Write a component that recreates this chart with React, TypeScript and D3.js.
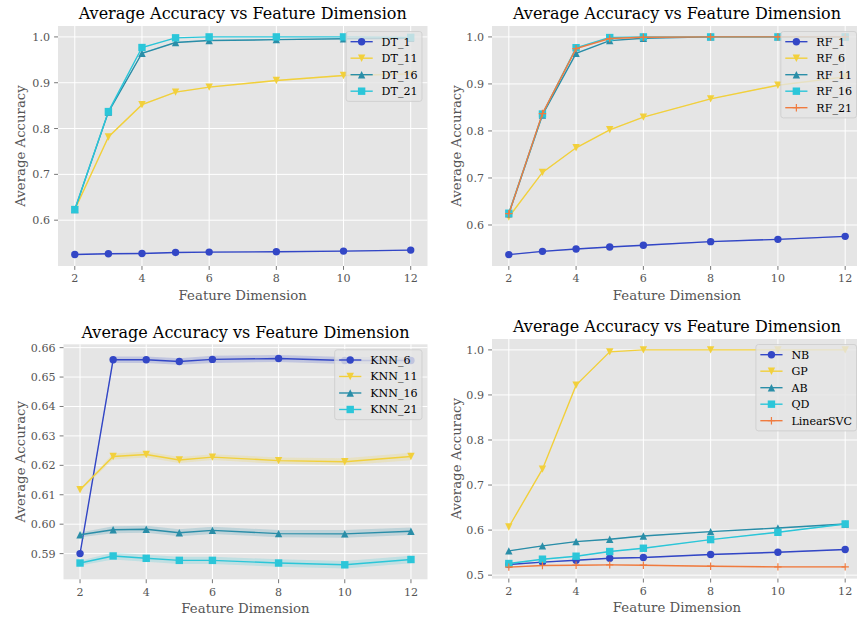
import React from "react";
import * as d3 from "d3";

// ---------- data ----------
const dims = [2, 3, 4, 5, 6, 8, 10, 12];
const xTicks = [2, 4, 6, 8, 10, 12];

// Panel 1: Decision trees
const dt1 = [0.525, 0.5267, 0.5274, 0.5296, 0.5303, 0.531, 0.5325, 0.5347];
const dt11 = [0.623, 0.7815, 0.852, 0.8795, 0.8904, 0.9049, 0.9158, 0.919];
const dt16 = [0.623, 0.836, 0.9644, 0.9877, 0.992, 0.994, 0.996, 0.997];
const dt21 = [0.6232, 0.837, 0.9768, 0.998, 1.0, 1.0, 1.0, 0.999];
const dt1Std = [0.0012, 0.0012, 0.0012, 0.0012, 0.0012, 0.0012, 0.0012, 0.0012];
const dt11Std = [0.001, 0.0015, 0.0015, 0.0015, 0.0015, 0.0015, 0.0015, 0.0015];
const dt16Std = [0.001, 0.001, 0.001, 0.001, 0.001, 0.001, 0.001, 0.001];
const dt21Std = [0.001, 0.001, 0.001, 0.0005, 0, 0, 0, 0];

// Panel 2: Random forests
const rf1 = [0.537, 0.544, 0.549, 0.5533, 0.5568, 0.5646, 0.5695, 0.5759];
const rf6 = [0.617, 0.7119, 0.7642, 0.8025, 0.8294, 0.8683, 0.8973, 0.915];
const rf11 = [0.624, 0.834, 0.965, 0.992, 0.997, 1.0, 1.0, 1.0];
const rf16 = [0.625, 0.836, 0.977, 0.9986, 1.0, 1.0, 1.0, 1.0];
const rf21 = [0.624, 0.837, 0.975, 0.9965, 0.9993, 1.0, 1.0, 1.0];
const rf1Std = [0.001, 0.0012, 0.0012, 0.0012, 0.0012, 0.0012, 0.0012, 0.0012];
const rf6Std = [0.001, 0.001, 0.001, 0.001, 0.001, 0.001, 0.001, 0.001];
const rf11Std = [0.001, 0.001, 0.001, 0.0005, 0.0003, 0, 0, 0];
const rf16Std = [0.001, 0.001, 0.001, 0.0005, 0, 0, 0, 0];
const rf21Std = [0.001, 0.001, 0.001, 0.0005, 0.0003, 0, 0, 0];

// Panel 3: KNN
const knn6 = [0.59, 0.6559, 0.6559, 0.6553, 0.656, 0.6563, 0.6556, 0.6556];
const knn11 = [0.6117, 0.623, 0.6237, 0.6218, 0.6228, 0.6216, 0.6212, 0.623];
const knn16 = [0.5964, 0.5981, 0.5983, 0.5971, 0.5979, 0.5968, 0.5967, 0.5976];
const knn21 = [0.5868, 0.5892, 0.5884, 0.5877, 0.5877, 0.5868, 0.5862, 0.588];
const knn6Std = [0.0003, 0.0011, 0.0011, 0.0011, 0.0012, 0.0012, 0.0012, 0.0012];
const knn11Std = [0.0004, 0.001, 0.001, 0.001, 0.001, 0.0011, 0.0012, 0.0013];
const knn16Std = [0.0008, 0.0012, 0.0012, 0.0012, 0.0012, 0.0012, 0.0013, 0.0013];
const knn21Std = [0.0008, 0.0012, 0.0012, 0.0012, 0.0012, 0.0013, 0.0013, 0.0013];

// Panel 4: other classifiers
const nb = [0.5236, 0.5288, 0.5332, 0.5376, 0.5391, 0.5457, 0.5509, 0.5568];
const gp = [0.6069, 0.7353, 0.9218, 0.9956, 1.0, 1.0, 1.0, 1.0];
const ab = [0.5538, 0.5649, 0.5745, 0.5796, 0.587, 0.5966, 0.6047, 0.6136];
const qd = [0.5258, 0.5354, 0.542, 0.5524, 0.5597, 0.5789, 0.5951, 0.6136];
const svc = [0.5177, 0.5214, 0.5221, 0.5229, 0.5221, 0.5199, 0.5184, 0.5184];
const nbStd = [0.0012, 0.0012, 0.0012, 0.0012, 0.0012, 0.0012, 0.0012, 0.0012];
const gpStd = [0.001, 0.001, 0.001, 0.0005, 0, 0, 0, 0];
const abStd = [0.001, 0.001, 0.001, 0.001, 0.001, 0.001, 0.001, 0.001];
const qdStd = [0.001, 0.001, 0.001, 0.001, 0.001, 0.001, 0.001, 0.001];
const svcStd = [0.0012, 0.0012, 0.0012, 0.0012, 0.0012, 0.0012, 0.0012, 0.0012];

const yTicks1 = [0.6, 0.7, 0.8, 0.9, 1.0];
const yTicks2 = [0.6, 0.7, 0.8, 0.9, 1.0];
const yTicks3 = [0.59, 0.6, 0.61, 0.62, 0.63, 0.64, 0.65, 0.66];
const yTicks4 = [0.5, 0.6, 0.7, 0.8, 0.9, 1.0];

const TITLE = "Average Accuracy vs Feature Dimension";
const XLABEL = "Feature Dimension";
const YLABEL = "Average Accuracy";

// ---------- styles ----------
const C_BLUE = "#3347c6";
const C_YELLOW = "#f2d03c";
const C_TEAL = "#2a8ea8";
const C_CYAN = "#2bc6d9";
const C_ORANGE = "#f07b3f";
const FONT = '"DejaVu Serif", serif';
const FS_TITLE = 16;
const FS_LABEL = 13.3;
const FS_TICK = 11.1;
const FS_LEGEND = 11.1;
const LINE_W = 1.4;

type Series = { name: string; values: number[]; std: number[]; color: string; marker: string };
type Panel = {
  series: Series[];
  yTicks: number[];
  fmt: (v: number) => string;
  left: number;
  right: number;
  top: number;
  bottom: number;
  ylabelX: number;
};

const panels: Panel[] = [
  {
    series: [
      { name: "DT_1", values: dt1, std: dt1Std, color: C_BLUE, marker: "o" },
      { name: "DT_11", values: dt11, std: dt11Std, color: C_YELLOW, marker: "v" },
      { name: "DT_16", values: dt16, std: dt16Std, color: C_TEAL, marker: "^" },
      { name: "DT_21", values: dt21, std: dt21Std, color: C_CYAN, marker: "s" },
    ],
    yTicks: yTicks1,
    fmt: d3.format(".1f"),
    left: 58,
    right: 427.5,
    top: 26,
    bottom: 266,
    ylabelX: 20.7,
  },
  {
    series: [
      { name: "RF_1", values: rf1, std: rf1Std, color: C_BLUE, marker: "o" },
      { name: "RF_6", values: rf6, std: rf6Std, color: C_YELLOW, marker: "v" },
      { name: "RF_11", values: rf11, std: rf11Std, color: C_TEAL, marker: "^" },
      { name: "RF_16", values: rf16, std: rf16Std, color: C_CYAN, marker: "s" },
      { name: "RF_21", values: rf21, std: rf21Std, color: C_ORANGE, marker: "+" },
    ],
    yTicks: yTicks2,
    fmt: d3.format(".1f"),
    left: 492,
    right: 862,
    top: 26,
    bottom: 266,
    ylabelX: 456.3,
  },
  {
    series: [
      { name: "KNN_6", values: knn6, std: knn6Std, color: C_BLUE, marker: "o" },
      { name: "KNN_11", values: knn11, std: knn11Std, color: C_YELLOW, marker: "v" },
      { name: "KNN_16", values: knn16, std: knn16Std, color: C_TEAL, marker: "^" },
      { name: "KNN_21", values: knn21, std: knn21Std, color: C_CYAN, marker: "s" },
    ],
    yTicks: yTicks3,
    fmt: d3.format(".2f"),
    left: 63.5,
    right: 427.5,
    top: 344.3,
    bottom: 579.3,
    ylabelX: 20.7,
  },
  {
    series: [
      { name: "NB", values: nb, std: nbStd, color: C_BLUE, marker: "o" },
      { name: "GP", values: gp, std: gpStd, color: C_YELLOW, marker: "v" },
      { name: "AB", values: ab, std: abStd, color: C_TEAL, marker: "^" },
      { name: "QD", values: qd, std: qdStd, color: C_CYAN, marker: "s" },
      { name: "LinearSVC", values: svc, std: svcStd, color: C_ORANGE, marker: "+" },
    ],
    yTicks: yTicks4,
    fmt: d3.format(".1f"),
    left: 492,
    right: 862,
    top: 339,
    bottom: 578.6,
    ylabelX: 456.3,
  },
];

let measureCtx: CanvasRenderingContext2D | null = null;
function textWidth(s: string, size: number) {
  if (!measureCtx) measureCtx = document.createElement("canvas").getContext("2d");
  if (!measureCtx) return s.length * size * 0.62;
  measureCtx.font = `${size}px "DejaVu Serif"`;
  return measureCtx.measureText(s).width;
}

function Marker({ type, x, y, color }: { type: string; x: number; y: number; color: string }) {
  const r = 3.7;
  if (type === "o") return <circle cx={x} cy={y} r={r} fill={color} />;
  if (type === "s") return <rect x={x - r} y={y - r} width={2 * r} height={2 * r} fill={color} />;
  if (type === "v")
    return <path d={`M${x - r},${y - r}L${x + r},${y - r}L${x},${y + r}Z`} fill={color} />;
  if (type === "^")
    return <path d={`M${x - r},${y + r}L${x + r},${y + r}L${x},${y - r}Z`} fill={color} />;
  return (
    <path
      d={`M${x - r},${y}L${x + r},${y}M${x},${y - r}L${x},${y + r}`}
      stroke={color}
      strokeWidth={1.2}
      fill="none"
    />
  );
}

function PanelView({ p, idx }: { p: Panel; idx: number }) {
  const x = d3.scaleLinear().domain([1.5, 12.5]).range([p.left, p.right]);
  let lo = Infinity;
  let hi = -Infinity;
  p.series.forEach((s) =>
    s.values.forEach((v, i) => {
      lo = Math.min(lo, v - s.std[i]);
      hi = Math.max(hi, v + s.std[i]);
    })
  );
  const pad = (hi - lo) * 0.05;
  const y = d3.scaleLinear().domain([lo - pad, hi + pad]).range([p.bottom, p.top]);
  const line = d3
    .line<number>()
    .x((_, i) => x(dims[i]))
    .y((v) => y(v));
  const clipId = `clip${idx}`;
  const tickColor = "#555555";

  // legend
  const lfs = FS_LEGEND;
  const maxW = Math.max(...p.series.map((s) => textWidth(s.name, lfs)));
  const bp = 0.4 * lfs;
  const handleLen = 2 * lfs;
  const textPad = 0.8 * lfs;
  const step = 16.5;
  const rowH = 11.5;
  const lw = bp + handleLen + textPad + maxW + bp;
  const lh = bp * 2 + rowH * p.series.length + (step - rowH) * (p.series.length - 1);
  const lRight = p.right - 5.5;
  const lx = lRight - lw;
  const ly = p.top + 5.5;

  const midY = (p.top + p.bottom) / 2;
  const midX = (p.left + p.right) / 2;

  return (
    <g>
      <defs>
        <clipPath id={clipId}>
          <rect x={p.left} y={p.top} width={p.right - p.left} height={p.bottom - p.top} />
        </clipPath>
      </defs>
      <rect x={p.left} y={p.top} width={p.right - p.left} height={p.bottom - p.top} fill="#e5e5e5" />
      {xTicks.map((t) => (
        <line key={"gx" + t} x1={x(t)} x2={x(t)} y1={p.top} y2={p.bottom} stroke="#ffffff" strokeWidth={1} />
      ))}
      {p.yTicks.map((t) => (
        <line key={"gy" + t} x1={p.left} x2={p.right} y1={y(t)} y2={y(t)} stroke="#ffffff" strokeWidth={1} />
      ))}
      <g clipPath={`url(#${clipId})`}>
        {p.series.map((s) => {
          const area = d3
            .area<number>()
            .x((_, i) => x(dims[i]))
            .y0((v, i) => y(v - s.std[i]))
            .y1((v, i) => y(v + s.std[i]));
          return (
            <g key={s.name}>
              <path d={line(s.values) || ""} fill="none" stroke={s.color} strokeWidth={LINE_W} />
              <path d={area(s.values) || ""} fill={s.color} fillOpacity={0.2} stroke="none" />
              {s.values.map((v, i) => (
                <Marker key={i} type={s.marker} x={x(dims[i])} y={y(v)} color={s.color} />
              ))}
            </g>
          );
        })}
      </g>
      {/* legend */}
      <rect
        x={lx}
        y={ly}
        width={lw}
        height={lh}
        rx={2.5}
        fill="#e5e5e5"
        fillOpacity={0.8}
        stroke="#cccccc"
        strokeOpacity={0.8}
        strokeWidth={1}
      />
      {p.series.map((s, i) => {
        const cy = ly + bp + rowH / 2 + i * step;
        const hx = lx + bp;
        return (
          <g key={"lg" + s.name}>
            <line x1={hx} x2={hx + handleLen} y1={cy} y2={cy} stroke={s.color} strokeWidth={LINE_W} />
            <Marker type={s.marker} x={hx + handleLen / 2} y={cy} color={s.color} />
            <text
              x={hx + handleLen + textPad}
              y={cy + lfs * 0.36}
              fontSize={lfs}
              fontFamily={FONT}
              fill="#000000"
            >
              {s.name}
            </text>
          </g>
        );
      })}
      {/* ticks */}
      {xTicks.map((t) => (
        <g key={"tx" + t}>
          <line x1={x(t)} x2={x(t)} y1={p.bottom} y2={p.bottom + 3.9} stroke={tickColor} strokeWidth={0.8} />
          <text x={x(t)} y={p.bottom + 16.2} textAnchor="middle" fontSize={FS_TICK} fontFamily={FONT} fill={tickColor}>
            {t}
          </text>
        </g>
      ))}
      {p.yTicks.map((t) => (
        <g key={"ty" + t}>
          <line x1={p.left - 3.9} x2={p.left} y1={y(t)} y2={y(t)} stroke={tickColor} strokeWidth={0.8} />
          <text
            x={p.left - 8}
            y={y(t) + FS_TICK * 0.36}
            textAnchor="end"
            fontSize={FS_TICK}
            fontFamily={FONT}
            fill={tickColor}
          >
            {p.fmt(t)}
          </text>
        </g>
      ))}
      <text x={midX} y={p.top - 6.7} textAnchor="middle" fontSize={FS_TITLE} fontFamily={FONT} fill="#000000">
        {TITLE}
      </text>
      <text
        x={midX}
        y={p.bottom + 29 + FS_LABEL * 0.36}
        textAnchor="middle"
        fontSize={FS_LABEL}
        fontFamily={FONT}
        fill={tickColor}
      >
        {XLABEL}
      </text>
      <text
        transform={`translate(${p.ylabelX + FS_LABEL * 0.36},${midY}) rotate(-90)`}
        textAnchor="middle"
        fontSize={FS_LABEL}
        fontFamily={FONT}
        fill={tickColor}
      >
        {YLABEL}
      </text>
    </g>
  );
}

export default function App() {
  return (
    <svg
      width={857}
      height={621}
      viewBox="0 0 857 621"
      style={{ position: "absolute", left: 0, top: 0, background: "#ffffff" }}
    >
      <rect x={0} y={0} width={857} height={621} fill="#ffffff" />
      {panels.map((p, i) => (
        <PanelView key={i} p={p} idx={i} />
      ))}
    </svg>
  );
}
